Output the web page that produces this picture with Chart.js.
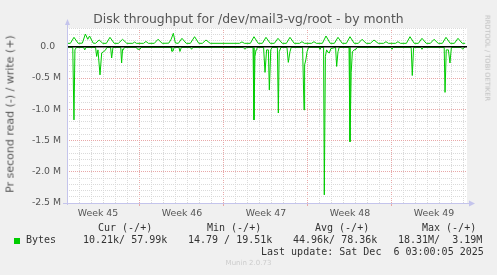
<!DOCTYPE html>
<html><head><meta charset="utf-8">
<script src="https://cdn.jsdelivr.net/npm/chart.js@4/dist/chart.umd.min.js"></script>
<style>
html,body{margin:0;padding:0;background:#f0f0f0;}
#wrap{position:relative;width:497px;height:275px;overflow:hidden;background:#f0f0f0;}
canvas{position:absolute;left:0;top:0;}
.t{position:absolute;white-space:pre;font-family:"DejaVu Sans";line-height:1;}
.m{position:absolute;white-space:pre;font-family:"DejaVu Sans Mono";font-size:10px;color:#333;line-height:12px;}
</style></head><body>
<div id="wrap">
<canvas id="c" width="497" height="275" style="width:497px;height:275px"></canvas>
<div class="t" style="left:0;width:497px;text-align:center;top:13px;font-size:12.4px;color:#555;">Disk throughput for /dev/mail3-vg/root - by month</div>
<div class="t" style="left:10px;top:114px;font-size:11px;color:#555;transform:translate(-50%,-50%) rotate(-90deg);">Pr second read (-) / write (+)</div>
<div class="t" style="left:487px;top:58px;font-size:6.7px;color:#bbb;transform:translate(-50%,-50%) rotate(90deg);">RRDTOOL / TOBI OETIKER</div>
<div class="m" style="left:98px;top:222px;">Cur (-/+)</div>
<div class="m" style="left:207px;top:222px;">Min (-/+)</div>
<div class="m" style="left:315px;top:222px;">Avg (-/+)</div>
<div class="m" style="left:422px;top:222px;">Max (-/+)</div>
<div style="position:absolute;left:14px;top:238px;width:6px;height:6px;background:#00cc00;"></div>
<div class="m" style="left:26px;top:234px;">Bytes</div>
<div class="m" style="left:83px;top:234px;">10.21k/ 57.99k</div>
<div class="m" style="left:188px;top:234px;">14.79 / 19.51k</div>
<div class="m" style="left:293px;top:234px;">44.96k/ 78.36k</div>
<div class="m" style="left:398px;top:234px;">18.31M/  3.19M</div>
<div class="m" style="left:261px;top:246px;">Last update: Sat Dec  6 03:00:05 2025</div>
<div class="t" style="left:0;width:497px;text-align:center;top:260px;font-size:7px;color:#ccc;">Munin 2.0.73</div>
</div>
<script>
// x in days since Mon 10 Nov 2025 (start of Week 46); y in MB/s
const weekStarts = [0, 7, 14, 21];
const weekLabels = ['Week 45', 'Week 46', 'Week 47', 'Week 48', 'Week 49'];
const weekLabelPos = [-3.5, 3.5, 10.5, 17.5, 24.5];
const yMajorTicks = [0, -0.5, -1, -1.5, -2, -2.5];
const yMajorLabels = ['0.0  ', '-0.5 M', '-1.0 M', '-1.5 M', '-2.0 M', '-2.5 M'];

const writeT = [-6.08, -5.8, -5.5, -5.15, -4.8, -4.55, -4.35, -4.2, -3.9, -3.7, -3.4, -3.1,
  -2.8, -2.5, -2.15, -1.8, -1.45, -1.1, -0.6, -0.45, -0.3, 0.3, 0.5, 0.7,
  1.2, 1.5, 1.85, 2.4, 2.6, 2.78, 2.95, 3.2, 3.5, 3.85, 4.2, 4.55, 4.9, 5.2, 5.5, 5.85,
  8.3, 8.5, 8.7, 9.2, 9.5, 9.85, 10.2, 10.5, 10.85, 11.2, 11.5, 11.85, 12.2, 12.5, 12.85,
  13.3, 13.5, 13.7, 14.3, 14.5, 14.7, 15.2, 15.5, 15.85, 16.2, 16.5, 16.85, 17.2, 17.5, 17.85,
  18.2, 18.5, 18.85, 19.2, 19.5, 19.85, 20.3, 20.5, 20.7, 21.3, 21.5, 21.7,
  22.2, 22.5, 22.85, 23.2, 23.5, 23.85, 24.2, 24.5, 24.85, 25.2, 25.5, 25.85, 26.2, 26.5, 26.85, 27.1];
const writeV = [0.055, 0.055, 0.151, 0.055, 0.058, 0.204, 0.12, 0.172, 0.058, 0.055, 0.108, 0.055,
  0.055, 0.151, 0.055, 0.055, 0.119, 0.055, 0.055, 0.075, 0.055, 0.055, 0.085, 0.055,
  0.055, 0.12, 0.055, 0.058, 0.12, 0.215, 0.06, 0.055, 0.135, 0.055, 0.055, 0.161, 0.055, 0.055, 0.108, 0.055,
  0.055, 0.078, 0.055, 0.055, 0.161, 0.055, 0.055, 0.151, 0.055, 0.055, 0.135, 0.055, 0.055, 0.151, 0.055,
  0.055, 0.081, 0.055, 0.055, 0.081, 0.055, 0.055, 0.172, 0.055, 0.055, 0.151, 0.055, 0.055, 0.161, 0.055,
  0.055, 0.119, 0.055, 0.055, 0.108, 0.055, 0.055, 0.081, 0.055, 0.055, 0.081, 0.055,
  0.055, 0.161, 0.055, 0.055, 0.135, 0.055, 0.055, 0.119, 0.055, 0.055, 0.151, 0.055, 0.055, 0.135, 0.055, 0.055];

const readT = [-6.08, -5.6, -5.5, -5.42, -5.3, -4.7, -4.6, -4.5,
  -3.7, -3.61, -3.5, -3.33, -3.19, -3.05, -2.9, -2.75, -2.45, -2.36, -2.25,
  -1.6, -1.53, -1.45, -1.39, -1.3, -0.3, -0.2, 0, 0.1,
  2.6, 2.65, 2.75, 2.85, 3.25, 3.33, 3.45, 4.2, 4.3, 4.4, 8.6, 8.75, 8.9,
  9.42, 9.5, 9.58, 9.67, 9.75, 10.3, 10.42, 10.55, 10.7, 10.78, 10.9, 11.0,
  11.45, 11.53, 11.6, 11.75, 12.25, 12.36, 12.5, 12.6,
  13.55, 13.67, 13.72, 13.82, 13.93, 14.05, 14.95, 15.0, 15.1,
  15.3, 15.36, 15.45, 15.55, 15.68, 15.78, 15.9, 16.3, 16.39, 16.5, 16.6,
  17.42, 17.5, 17.6, 17.7, 17.85, 18.0, 18.1, 20.9, 21.0, 21.1,
  22.6, 22.69, 22.8, 23.4, 23.5, 23.6, 25.35, 25.42, 25.52, 25.7, 25.83, 25.95,
  26.75, 26.9, 27.0, 27.1];
const readV = [-0.008, -0.01, -1.17, -0.05, -0.01, -0.01, -0.05, -0.01,
  -0.01, -0.155, -0.05, -0.45, -0.1, -0.08, -0.06, -0.01, -0.01, -0.18, -0.01,
  -0.01, -0.26, -0.04, -0.05, -0.01, -0.01, -0.04, -0.04, -0.01,
  -0.01, -0.07, -0.07, -0.01, -0.01, -0.075, -0.01, -0.01, -0.04, -0.01, -0.01, -0.04, -0.01,
  -0.01, -1.17, -0.155, -0.05, -0.01, -0.01, -0.41, -0.05, -0.05, -0.69, -0.05, -0.01,
  -0.01, -1.06, -0.08, -0.01, -0.01, -0.25, -0.08, -0.01,
  -0.01, -1.01, -0.29, -0.21, -0.075, -0.01, -0.01, -0.04, -0.01,
  -0.01, -2.37, -0.155, -0.05, -0.09, -0.1, -0.03, -0.01, -0.315, -0.08, -0.01,
  -0.01, -1.52, -0.41, -0.08, -0.05, -0.04, -0.01, -0.01, -0.04, -0.01,
  -0.01, -0.46, -0.01, -0.01, -0.04, -0.01, -0.01, -0.73, -0.05, -0.05, -0.26, -0.01,
  -0.01, -0.04, -0.01, -0.008];

const xMin = -6.08, xMax = 27.25, yMin = -2.5, yMax = 0.3;
const GREEN = '#00cc00', GRID = '#dadada', MAJOR = '#e8a8a8', AXIS = '#c4c4ec';

const pts = (T, V) => T.map((t, i) => ({x: t, y: V[i]}));
const isMajorY = v => Math.abs(Math.round(v * 10) % 5) === 0;

const munin = {
  id: 'munin',
  beforeDraw(chart) {
    const {ctx, chartArea: a} = chart;
    ctx.save(); ctx.fillStyle = '#fff';
    ctx.fillRect(a.left, a.top, a.right - a.left, a.bottom - a.top);
    ctx.restore();
  },
  afterDatasetsDraw(chart) {
    const {ctx, chartArea: a} = chart;
    const y0 = chart.scales.y.getPixelForValue(0);
    ctx.save();
    ctx.strokeStyle = '#000'; ctx.lineWidth = 1.6;
    ctx.beginPath(); ctx.moveTo(a.left, y0); ctx.lineTo(a.right, y0); ctx.stroke();
    ctx.strokeStyle = AXIS; ctx.fillStyle = AXIS; ctx.lineWidth = 1;
    ctx.beginPath(); ctx.moveTo(a.left + 0.5, a.bottom + 2); ctx.lineTo(a.left + 0.5, a.top - 6); ctx.stroke();
    ctx.beginPath(); ctx.moveTo(a.left - 4, a.bottom + 0.5); ctx.lineTo(a.right + 3, a.bottom + 0.5); ctx.stroke();
    ctx.beginPath(); ctx.moveTo(a.left - 2, a.top - 3); ctx.lineTo(a.left + 3, a.top - 3); ctx.lineTo(a.left + 0.5, a.top - 9); ctx.closePath(); ctx.fill();
    ctx.beginPath(); ctx.moveTo(a.right + 2, a.bottom - 2.5); ctx.lineTo(a.right + 2, a.bottom + 3.5); ctx.lineTo(a.right + 8, a.bottom + 0.5); ctx.closePath(); ctx.fill();
    ctx.restore();
  }
};

const xTickVals = [];
for (let d = -6; d <= 27; d++) xTickVals.push(d);
weekLabelPos.forEach(v => xTickVals.push(v));
xTickVals.sort((a, b) => a - b);
const yTickVals = [];
for (let k = -25; k <= 3; k++) yTickVals.push(k / 10);

new Chart(document.getElementById('c'), {
  type: 'line',
  data: {datasets: [
    {data: pts(readT, readV), borderColor: GREEN, borderWidth: 1, pointRadius: 0, tension: 0, fill: false},
    {data: pts(writeT, writeV), borderColor: GREEN, borderWidth: 1, pointRadius: 0, tension: 0, fill: false}
  ]},
  options: {
    responsive: false, animation: false, events: [],
    layout: {padding: {left: 0, right: 30, top: 28, bottom: 50}},
    plugins: {legend: {display: false}, tooltip: {enabled: false}, title: {display: false}},
    scales: {
      x: {
        type: 'linear', min: xMin, max: xMax,
        afterBuildTicks: s => { s.ticks = xTickVals.map(v => ({value: v})); },
        afterFit: s => { s.height = 22; },
        grid: {
          lineWidth: 1, drawTicks: true, tickLength: 3,
          color: c => weekLabelPos.includes(c.tick.value) ? 'rgba(0,0,0,0)' : (weekStarts.includes(c.tick.value) ? MAJOR : GRID),
          tickColor: c => weekStarts.includes(c.tick.value) ? MAJOR : 'rgba(0,0,0,0)'
        },
        border: {display: false, dash: [1, 1]},
        ticks: {
          autoSkip: false, maxRotation: 0, minRotation: 0, padding: 2, color: '#555',
          font: {family: 'DejaVu Sans', size: 9.4},
          callback: v => { const i = weekLabelPos.indexOf(v); return i >= 0 ? weekLabels[i] : ''; }
        }
      },
      y: {
        min: yMin, max: yMax,
        afterBuildTicks: s => { s.ticks = yTickVals.map(v => ({value: v})); },
        afterFit: s => { s.width = 67; },
        grid: {lineWidth: 1, drawTicks: false, color: c => isMajorY(c.tick.value) ? MAJOR : GRID},
        border: {display: false, dash: [1, 1]},
        ticks: {
          autoSkip: false, padding: 6, color: '#555',
          font: {family: 'DejaVu Sans', size: 9.3},
          callback: v => { const i = yMajorTicks.findIndex(m => Math.abs(m - v) < 1e-6); return i >= 0 ? yMajorLabels[i] : ''; }
        }
      }
    }
  },
  plugins: [munin]
});
</script>
</body></html>
